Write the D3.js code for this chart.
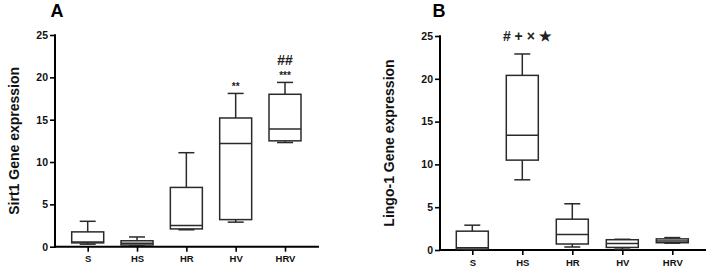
<!DOCTYPE html>
<html><head><meta charset="utf-8">
<script src="https://cdn.jsdelivr.net/npm/d3@7"></script>
<style>
body{margin:0;background:#fff;}
svg text{font-family:"Liberation Sans",Arial,sans-serif;}
</style></head>
<body><svg id="c" width="708" height="268"></svg>
<script>
const categories = ["S","HS","HR","HV","HRV"];
const yTicks = [0,5,10,15,20,25];
// [min, q1, median, q3, max]
const sirt1 = [
  [0.3, 0.45, 0.55, 1.75, 3.0],
  [0.15, 0.2, 0.4, 0.7, 1.15],
  [2.0, 2.1, 2.5, 7.0, 11.1],
  [2.9, 3.2, 12.2, 15.2, 18.1],
  [12.3, 12.5, 13.9, 18.0, 19.4]
];
const lingo1 = [
  [0.05, 0.1, 0.25, 2.2, 2.9],
  [8.2, 10.5, 13.4, 20.4, 22.9],
  [0.35, 0.7, 1.8, 3.6, 5.4],
  [0.1, 0.3, 0.75, 1.2, 1.25],
  [0.8, 0.85, 1.05, 1.3, 1.45]
];
const sirt1Marks = [
  {cat:"HV", text:"**", value:18.1, dy:-3.5, size:10},
  {cat:"HRV", text:"***", value:19.4, dy:-3, size:10},
  {cat:"HRV", text:"##", value:19.4, dy:-17, size:14}
];
const lingo1Marks = [
  {cat:"HS", text:"# + × ★", value:22.9, dy:-13, size:14, shift:5}
];

const svg = d3.select("#c");

function panel(o){
  const g = svg.append("g");
  const y = d3.scaleLinear().domain([0,25]).range([o.y0, o.y25]);
  const x = d3.scalePoint().domain(categories).range([o.xFirst, o.xLast]);
  // y axis
  const ya = g.append("g").attr("transform",`translate(${o.axisX},0)`)
    .call(d3.axisLeft(y).tickValues(yTicks).tickSize(5).tickPadding(2).tickFormat(d3.format("d")));
  ya.select(".domain").remove();
  ya.selectAll(".tick line").attr("stroke","#000").attr("stroke-width",1.6);
  ya.selectAll(".tick text").attr("font-size",10.5).attr("font-weight","bold").attr("fill","#111")
    .attr("font-family","'Liberation Sans',Arial,sans-serif");
  // x axis
  const xa = g.append("g").attr("transform",`translate(0,${o.y0})`)
    .call(d3.axisBottom(x).tickSize(5).tickPadding(4));
  xa.select(".domain").remove();
  xa.selectAll(".tick line").attr("stroke","#000").attr("stroke-width",1.6);
  xa.selectAll(".tick text").attr("font-size",9.5).attr("font-weight","bold").attr("fill","#111")
    .attr("font-family","'Liberation Sans',Arial,sans-serif");
  // axis lines
  g.append("line").attr("x1",o.axisX).attr("x2",o.axisX).attr("y1",y(25)-0.8).attr("y2",o.y0+1)
    .attr("stroke","#000").attr("stroke-width",2);
  g.append("line").attr("x1",o.axisX-1).attr("x2",o.axisXEnd).attr("y1",o.y0).attr("y2",o.y0)
    .attr("stroke","#000").attr("stroke-width",2);
  // boxes
  const bw = 32, cw = 16, col = "#2a2a2a";
  o.data.forEach((d,i)=>{
    const cx = x(categories[i]);
    const [mn,q1,md,q3,mx] = d;
    const b = g.append("g").attr("stroke",col).attr("stroke-width",1.5).attr("fill","none");
    b.append("line").attr("x1",cx).attr("x2",cx).attr("y1",y(q3)).attr("y2",y(mx));
    b.append("line").attr("x1",cx).attr("x2",cx).attr("y1",y(mn)).attr("y2",y(q1));
    b.append("line").attr("x1",cx-cw/2).attr("x2",cx+cw/2).attr("y1",y(mx)).attr("y2",y(mx));
    b.append("line").attr("x1",cx-cw/2).attr("x2",cx+cw/2).attr("y1",y(mn)).attr("y2",y(mn));
    b.append("rect").attr("x",cx-bw/2).attr("width",bw).attr("y",y(q3)).attr("height",y(q1)-y(q3)).attr("fill","#fff");
    b.append("line").attr("x1",cx-bw/2).attr("x2",cx+bw/2).attr("y1",y(md)).attr("y2",y(md));
  });
  // annotations
  o.marks.forEach(m=>{
    g.append("text").attr("x",x(m.cat)+(m.shift||0)).attr("y",y(m.value)+m.dy)
      .attr("text-anchor","middle").attr("font-size",m.size).attr("font-weight","bold").attr("fill","#222")
      .text(m.text);
  });
  // y title
  g.append("text").attr("transform",`translate(${o.titleX},${(o.y0+o.y25)/2}) rotate(-90)`)
    .attr("text-anchor","middle").attr("font-size",14).attr("font-weight","bold").attr("fill","#111")
    .text(o.title);
  // panel label
  g.append("text").attr("x",o.labelX).attr("y",17).attr("text-anchor","middle")
    .attr("font-size",18).attr("font-weight","bold").attr("fill","#000").text(o.label);
}

panel({data:sirt1, marks:sirt1Marks, axisX:55, axisXEnd:319, y0:246.7, y25:35, xFirst:87.7, xLast:285,
  title:"Sirt1 Gene expression", titleX:19, label:"A", labelX:57});
panel({data:lingo1, marks:lingo1Marks, axisX:440, axisXEnd:706, y0:250, y25:36, xFirst:472.3, xLast:672.3,
  title:"Lingo-1 Gene expression", titleX:394, label:"B", labelX:439});
</script></body></html>
